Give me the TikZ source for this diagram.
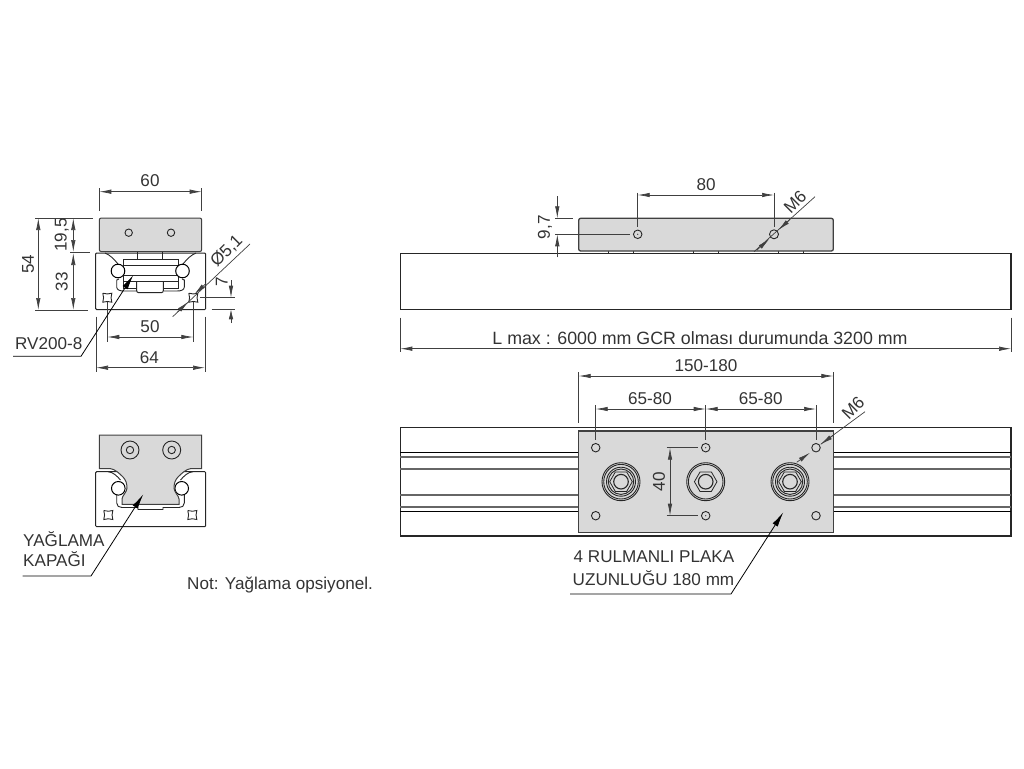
\documentclass[tikz,border=0pt]{standalone}
\usepackage{fontspec}
\setmainfont{Liberation Sans}
\usetikzlibrary{arrows.meta,shapes.geometric}

\begin{document}
\begin{tikzpicture}[x=1pt,y=-1pt,>={Latex[length=12pt,width=4.5pt]},
	part/.style={draw=black!85,line width=1pt,fill=white},
	plate/.style={draw=black!75,line width=1.3pt,fill=black!15},
	thinline/.style={draw=black!85,line width=0.9pt},
	groove/.style={draw=black!60,line width=1.6pt},
	dimline/.style={draw=black!75,line width=0.7pt},
	callout/.style={draw=black,line width=0.8pt,>={Latex[length=15pt,width=6pt]}},
	hole/.style={circle,draw=black!85,line width=0.9pt,inner sep=0pt,minimum size=8.5pt},
	roller/.style={circle,draw=black,line width=1pt,fill=white,inner sep=0pt,minimum size=13.6pt},
	ring/.style={circle,draw=black!85,line width=0.9pt,inner sep=0pt},
	nut/.style={regular polygon,regular polygon sides=6,draw=black!85,line width=0.8pt,inner sep=0pt,minimum size=22.6pt},
	dimtext/.style={text=black!80,font=\fontsize{17.1}{20}\selectfont,inner sep=0pt}]

\useasboundingbox (0,0) rectangle (1024,768);

% left view, upper
\draw [plate,line width=1pt,rounded corners=2pt] (99.3,218) rectangle (201.7,251.6);
\draw [part,rounded corners=1pt] (95.7,253) rectangle (205.7,309.5);
\draw [thinline] (137.3,251.6) -- (137.3,259);
\draw [thinline] (162.7,251.6) -- (162.7,259);
\draw [thinline] (105,253) .. controls (110,255) and (114,259) .. (118,264);
\draw [thinline] (196,253) .. controls (191,255) and (187,259) .. (183,264);
\draw [thinline] (119,279) -- (116.7,280) -- (116.7,287) .. controls (116.7,290) and (120,291) .. (124,291) -- (137,291);
\draw [thinline] (182,279) -- (184.3,280) -- (184.3,287) .. controls (184.3,290) and (181,291) .. (177,291) -- (164,291);
\draw [thinline] (123,276) -- (123,288) -- (178,288) -- (178,276);
\draw [part,rounded corners=2pt] (136.7,282) -- (136.7,292.7) -- (163.3,292.7) -- (163.3,282);
\draw [thinline] (123,259) rectangle (178,281.7);
\draw [thinline] (123,265) -- (178,265);
\draw [thinline] (123,275.7) -- (178,275.7);
\node [roller] (r1) at (118,271) {};
\node [roller] (r2) at (182.5,271) {};
\node [hole,minimum size=7.4pt] (t1) at (128.7,232.7) {};
\node [hole,minimum size=7.4pt] (t2) at (171,232.7) {};

% left view, lower
\draw [part,rounded corners=1pt] (95.7,471.7) rectangle (205.7,526.7);
\draw [thinline] (108,471.7) .. controls (113,472) and (117,476) .. (120.5,480);
\draw [thinline] (193,471.7) .. controls (188,472) and (184,476) .. (180.5,480);
\draw [thinline] (116.7,495) -- (116.7,503) .. controls (116.7,506) and (119,507.5) .. (122,507.5) -- (138,507.5) -- (138,509.5) -- (163,509.5) -- (163,507.5) -- (179,507.5) .. controls (182,507.5) and (184.3,506) .. (184.3,503) -- (184.3,495);
\node [roller] (r3) at (118.3,488.3) {};
\node [roller] (r4) at (181.7,488.3) {};
\draw [plate,line width=1pt] (99.3,435) -- (201.7,435) -- (201.7,468.5) -- (191,468.5) .. controls (186,469) and (181,474) .. (178,477) .. controls (175,480) and (174,484) .. (174,488) .. controls (174,492) and (179,496) .. (179,499) -- (179,504.3) -- (122,504.3) -- (122,499) .. controls (122,496) and (127,492) .. (127,488) .. controls (127,484) and (126,480) .. (123,477) .. controls (120,474) and (115,469) .. (110,468.5) -- (99.3,468.5) -- cycle;
\foreach \n/\x in {a/130,b/171.7} {
	\node [ring,minimum size=18pt] (\n o) at (\x,450) {};
	\node [ring,minimum size=7.4pt] (\n i) at (\x,450) {};
}

% square holes
\foreach \x/\y in {107.3/297.7,193.3/297.7,108.3/515,192.3/515} {
	\draw [thinline] (\x-4.5,\y-4.5) .. controls (\x-1.5,\y-3.5) and (\x+1.5,\y-3.5) .. (\x+4.5,\y-4.5) .. controls (\x+3.5,\y-1.5) and (\x+3.5,\y+1.5) .. (\x+4.5,\y+4.5) .. controls (\x+1.5,\y+3.5) and (\x-1.5,\y+3.5) .. (\x-4.5,\y+4.5) .. controls (\x-3.5,\y+1.5) and (\x-3.5,\y-1.5) .. (\x-4.5,\y-4.5);
}

% rail and plate, side view
\draw [part,line width=1.1pt] (400.3,253.3) rectangle (1011,309.3);
\foreach \x in {608.3,633.3,693.3,718.3,778.3,803.3} {
	\draw [thinline] (\x,251) -- (\x,253.3);
}
\draw [plate,rounded corners=2pt] (578.7,218.3) rectangle (833.3,251);
\node [hole] (s1) at (637.7,234.3) {};
\node [hole,minimum size=9pt] (s2) at (774,234.3) {};
\fill [black!85] (s1) circle (0.6pt);

% rail and plate, plan view
\draw [part,line width=1.1pt] (400.3,427.3) rectangle (1011,536);
\foreach \y in {452.3,511} {
	\draw [thinline,draw=black] (400.3,\y) -- (1011,\y);
}
\foreach \y in {456.7,468.7,495,506.7} {
	\draw [groove] (400.3,\y) -- (1011,\y);
}
\draw [plate] (578.3,431) rectangle (833.3,532.7);
\foreach \n/\x/\y in {1/595.7/447.7,2/705.7/447.7,3/816/447.7,4/595.7/515.7,5/705.7/515.7,6/816/515.7} {
	\node [hole] (p\n) at (\x,\y) {};
}
\fill [black!85] (p2) circle (0.6pt);
\fill [black!85] (p5) circle (0.6pt);
\foreach \n/\x in {1/621,2/705.7,3/790} {
	\node [ring,minimum size=38pt] (b\n a) at (\x,481.7) {};
	\node [ring,minimum size=34.6pt] (b\n b) at (\x,481.7) {};
	\node [nut] (b\n h) at (\x,481.7) {};
	\node [ring,minimum size=14.6pt,line width=1.1pt] (b\n c) at (\x,481.7) {};
}
\foreach \n in {1,3} {
	\node [ring,minimum size=29pt] (b\n e) at (b\n a) {};
	\node [ring,minimum size=25.4pt] (b\n f) at (b\n a) {};
}

% dimensions, left view
\coordinate (d60a) at (99.3,191.7);
\coordinate (d60b) at (201.7,191.7);
\draw [dimline] (99.3,188) -- (99.3,211);
\draw [dimline] (201.7,188) -- (201.7,211);
\draw [dimline,<->] (d60a) -- (d60b);
\node [dimtext] (n60) at (150,181) {60};

\coordinate (d54a) at (38.3,218);
\coordinate (d54b) at (38.3,310);
\draw [dimline] (35,218) -- (92.7,218);
\draw [dimline] (35,310) -- (88,310);
\draw [dimline,<->] (d54a) -- (d54b);
\node [dimtext,rotate=90] (n54) at (28,264) {54};

\coordinate (d19a) at (73.3,218);
\coordinate (d19b) at (73.3,252);
\coordinate (d33a) at (73.3,253);
\draw [dimline] (70,252) -- (90,252);
\draw [dimline,<->] (d19a) -- (d19b);
\draw [dimline,<->] (d33a) -- (d54b -| d33a);
\node [dimtext,rotate=90] (n19) at (61.7,235) {19,5};
\node [dimtext,rotate=90] (n33) at (61.7,281.7) {33};

\coordinate (d50a) at (107.3,337);
\coordinate (d50b) at (193.3,337);
\draw [dimline] (107.3,302) -- (107.3,341.7);
\draw [dimline] (193.3,302) -- (193.3,341.7);
\draw [dimline,<->] (d50a) -- (d50b);
\node [dimtext] (n50) at (150,326.7) {50};

\coordinate (d64a) at (96,367.7);
\coordinate (d64b) at (205,367.7);
\draw [dimline] (96,316.7) -- (96,371.7);
\draw [dimline] (205,316.7) -- (205,371.7);
\draw [dimline,<->] (d64a) -- (d64b);
\node [dimtext] (n64) at (149.3,357.7) {64};

\coordinate (d7a) at (231,280);
\coordinate (d7b) at (231,297.7);
\coordinate (d7c) at (231,323);
\coordinate (d7d) at (231,309.3);
\draw [dimline] (200,297.7) -- (235,297.7);
\draw [dimline] (211.7,309.3) -- (235,309.3);
\draw [dimline,->] (d7a) -- (d7b);
\draw [dimline,->,>={Latex[length=10pt,width=4.5pt]}] (d7c) -- (d7d);
\node [dimtext,rotate=90] (n7) at (221.7,281.7) {7};

\coordinate (l1a) at (250,244);
\coordinate (l1b) at (172.7,316.7);
\coordinate (l1c) at (194.3,294.3);
\coordinate (l1d) at (188.3,301.7);
\draw [dimline] (l1a) -- (l1b);
\draw [dimline,->] (206,283.5) -- (l1c);
\draw [dimline,->] (177.5,312) -- (l1d);
\node [dimtext,rotate=45] (n51) at (226.7,251) {Ø5,1};

% callouts, left view
\coordinate (c1a) at (13,356.3);
\coordinate (c1b) at (81,356.3);
\coordinate (c1c) at (133.3,275);
\draw [callout,->] (c1a) -- (c1b) -- (c1c);
\node [dimtext,anchor=west] (rv) at (15,344) {RV200-8};

\coordinate (c2a) at (22.7,576);
\coordinate (c2b) at (91,576);
\coordinate (c2c) at (143.3,494.3);
\draw [callout,->] (c2a) -- (c2b) -- (c2c);
\node [dimtext,anchor=west] (yag) at (23,539) {YAĞLAMA};
\node [dimtext,anchor=west] (kap) at (23,559.5) {KAPAĞI};
\node [dimtext,anchor=west] (note) at (187,585) {Not: Yağlama opsiyonel.};

% dimensions, side view
\coordinate (d80a) at (637.7,195);
\coordinate (d80b) at (774,195);
\draw [dimline] (637.7,192.7) -- (637.7,226.7);
\draw [dimline] (774,192.7) -- (774,226.7);
\draw [dimline,<->] (d80a) -- (d80b);
\node [dimtext] (n80) at (706,185) {80};

\coordinate (d97a) at (557.3,196);
\coordinate (d97b) at (557.3,218.3);
\coordinate (d97c) at (557.3,257.3);
\coordinate (d97d) at (557.3,234.3);
\draw [dimline] (555,218.3) -- (572.7,218.3);
\draw [dimline] (555,234.3) -- (630,234.3);
\draw [dimline,->] (d97a) -- (d97b);
\draw [dimline,->] (d97c) -- (d97d);
\node [dimtext,rotate=90] (n97) at (545,227.3) {9,7};

\coordinate (m1a) at (815,196.7);
\coordinate (m1b) at (754,251.7);
\coordinate (m1c) at (778.3,230);
\coordinate (m1d) at (769.3,239);
\draw [dimline] (m1a) -- (m1b);
\draw [dimline,->] (790,219.5) -- (m1c);
\draw [dimline,->] (757,250) -- (m1d);
\node [dimtext,rotate=45] (nm1) at (795,202.3) {M6};

\coordinate (dLa) at (400.3,348.7);
\coordinate (dLb) at (1011,348.7);
\draw [dimline] (400.3,317.7) -- (400.3,352);
\draw [dimline] (1011,317.7) -- (1011,352);
\draw [dimline,<->] (dLa) -- (dLb);
\node [dimtext,font=\fontsize{17.8}{20}\selectfont] (nL) at (700,338) {L max : 6000 mm GCR olması durumunda 3200 mm};

% dimensions, plan view
\coordinate (d150a) at (578.7,376);
\coordinate (d150b) at (833.3,376);
\draw [dimline] (578.7,372) -- (578.7,423);
\draw [dimline] (833.3,372) -- (833.3,423);
\draw [dimline,<->] (d150a) -- (d150b);
\node [dimtext] (n150) at (706,366) {150-180};

\coordinate (d65a) at (595.7,409);
\coordinate (d65b) at (705.7,409);
\coordinate (d65c) at (816,409);
\draw [dimline] (595.7,405) -- (595.7,440);
\draw [dimline] (705.7,405) -- (705.7,440);
\draw [dimline] (816,405) -- (816,440);
\draw [dimline,<->] (d65a) -- (d65b);
\draw [dimline,<->] (d65b) -- (d65c);
\node [dimtext] (n65a) at (650,398.3) {65-80};
\node [dimtext] (n65b) at (760.7,398.3) {65-80};

\coordinate (d40a) at (670,447.7);
\coordinate (d40b) at (670,515.7);
\draw [dimline] (666.7,447.7) -- (698.3,447.7);
\draw [dimline] (666.7,515.7) -- (698.3,515.7);
\draw [dimline,<->] (d40a) -- (d40b);
\node [dimtext,rotate=90] (n40) at (659,481.7) {40};

\coordinate (m2a) at (865,411.7);
\coordinate (m2b) at (796.7,462.3);
\coordinate (m2c) at (820.7,444.3);
\coordinate (m2d) at (810,452.7);
\draw [dimline] (m2a) -- (m2c);
\draw [dimline,->] (833,435.5) -- (m2c);
\draw [dimline,->] (m2b) -- (m2d);
\node [dimtext,rotate=45] (nm2) at (853,408) {M6};

% callout, plan view
\coordinate (c3a) at (570,594);
\coordinate (c3b) at (731,594);
\coordinate (c3c) at (783.3,512.3);
\draw [callout,->] (c3a) -- (c3b) -- (c3c);
\node [dimtext] (rul) at (654,557) {4 RULMANLI PLAKA};
\node [dimtext] (uzu) at (653.5,578) {UZUNLUĞU 180 mm};
\end{tikzpicture}
\end{document}
